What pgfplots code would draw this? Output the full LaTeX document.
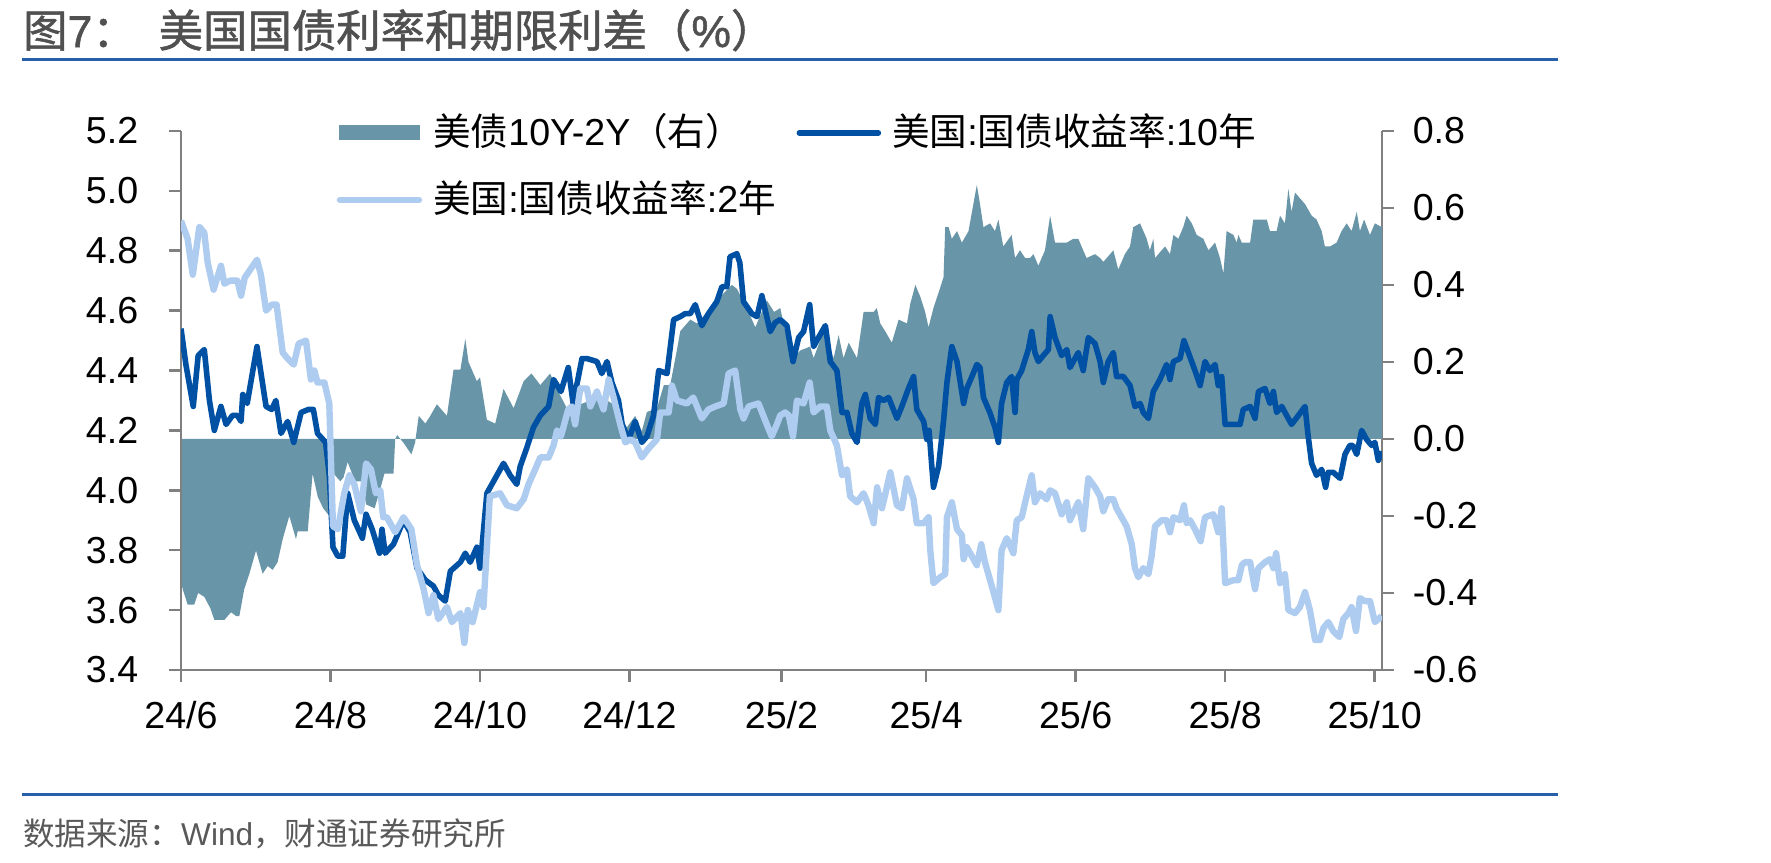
\documentclass[border=0pt]{standalone}
\usepackage{fontspec}
\usepackage{pgfplots}
\usepackage{pgfplotstable}
\pgfplotsset{compat=1.18}
\setmainfont{Liberation Sans}
\newfontfamily\cjk{Noto Sans CJK SC}
\newfontfamily\cjkhead[FakeBold=1.2]{Noto Sans CJK SC}
\newfontfamily\lathead[FakeBold=1.2]{Liberation Sans}

\definecolor{spreadfill}{RGB}{104,149,168}
\definecolor{tenyr}{RGB}{0,81,163}
\definecolor{twoyr}{RGB}{174,203,240}
\definecolor{axisgray}{RGB}{128,128,128}
\definecolor{rulecol}{RGB}{40,95,170}
\definecolor{titlegray}{RGB}{80,80,80}
\definecolor{srcgray}{RGB}{89,89,89}

% d = days since 2024-06-01
\pgfplotstableread{
d v
0 4.54
2 4.42
5 4.28
7 4.45
9.5 4.47
11.6 4.30
13.6 4.20
16.3 4.28
18.4 4.22
21 4.25
23 4.25
24.5 4.23
25.2 4.32
27 4.29
31 4.48
34.7 4.28
37 4.27
38.7 4.30
40.8 4.19
43.5 4.23
46 4.16
49 4.26
52 4.27
54 4.27
55.7 4.19
59 4.16
60.5 4.05
62 3.81
64 3.78
66 3.78
68 3.99
70.7 3.90
74 3.84
75.5 3.92
78 3.87
81 3.79
82 3.87
83.3 3.79
86.7 3.82
90.8 3.90
93.5 3.86
96.3 3.74
99.7 3.70
103 3.68
105 3.65
107.8 3.63
109.9 3.73
114 3.76
116 3.79
118 3.76
120.7 3.81
122 3.74
124.8 3.99
128.2 4.04
131.6 4.09
134.3 4.05
137 4.02
138.4 4.08
141 4.14
143.8 4.21
146.6 4.25
150 4.28
152 4.37
155 4.33
158 4.41
160 4.29
163.6 4.44
165.6 4.44
169.7 4.43
171.7 4.39
173.8 4.43
175.8 4.36
178.5 4.30
180 4.22
182.6 4.17
185.3 4.23
188 4.16
190.1 4.18
192.8 4.25
194.9 4.40
198.3 4.39
201 4.57
203.7 4.58
205.7 4.59
207.8 4.59
209.8 4.62
212.5 4.55
215.2 4.59
218.6 4.63
220.7 4.68
222.7 4.68
224 4.78
226.8 4.79
228 4.76
229.5 4.63
232.9 4.59
235 4.58
237 4.65
240.4 4.53
242.4 4.56
244.5 4.57
247.2 4.55
249.7 4.43
252 4.51
254 4.53
256.5 4.62
258.1 4.48
260.1 4.51
262.9 4.55
264.9 4.43
267.6 4.40
269.7 4.26
271.7 4.26
273.7 4.19
275.8 4.16
277.8 4.29
279.2 4.32
281.2 4.24
283.3 4.22
284.6 4.31
286.6 4.30
288.7 4.31
292.1 4.24
294.1 4.28
296.8 4.34
298.9 4.38
300.2 4.27
303 4.23
304.3 4.17
305.2 4.20
307 4.01
309.1 4.08
311.1 4.23
312.5 4.36
314.5 4.48
316.6 4.43
319.3 4.29
320.6 4.34
322.7 4.38
324.7 4.42
326 4.41
327.4 4.31
330 4.26
332.1 4.21
333.5 4.16
334.8 4.29
336.9 4.36
338.9 4.38
340.3 4.26
341 4.37
343 4.40
345.7 4.47
347.1 4.53
348.4 4.46
349.8 4.43
351.8 4.45
353.9 4.47
354.6 4.58
356.6 4.51
359.3 4.45
361.4 4.47
362.7 4.41
366.1 4.46
368.1 4.40
370.2 4.51
372.9 4.49
375 4.43
376.3 4.36
378.3 4.43
380.4 4.46
381.7 4.38
384.5 4.38
387.2 4.35
389.2 4.28
391.3 4.29
392.6 4.26
394.7 4.24
396.7 4.33
399.4 4.37
402.1 4.42
403.5 4.37
404.9 4.43
407.6 4.44
409.2 4.50
411 4.46
413.7 4.40
415.8 4.35
417.8 4.43
419.8 4.40
421.9 4.42
423.2 4.35
424.6 4.38
426 4.22
429.4 4.22
432.1 4.22
433.4 4.27
436.2 4.28
438.2 4.24
439.6 4.33
442.3 4.34
444.3 4.29
445.7 4.33
447 4.26
449.1 4.28
451.1 4.25
453.1 4.22
455.9 4.25
458.6 4.28
459.9 4.18
461.3 4.09
463.3 4.05
465.4 4.07
467 4.01
468.1 4.06
470.1 4.06
472.9 4.04
474.9 4.12
476.9 4.15
478 4.15
479.7 4.12
481.7 4.20
483.7 4.17
485.8 4.15
487.1 4.16
488.5 4.10
489.9 4.13
}\tenyear

\pgfplotstableread{
d v
0 4.90
2.7 4.84
4.8 4.72
7.5 4.88
9.5 4.86
10.9 4.76
13.3 4.67
16.3 4.75
17.7 4.69
20 4.70
23 4.70
24.5 4.65
26 4.71
31 4.77
32.6 4.72
34.7 4.60
37 4.62
39 4.62
41.5 4.46
43.5 4.44
46 4.42
48 4.49
51 4.50
53 4.37
54.4 4.40
55.7 4.36
58.5 4.36
60.5 4.29
62 3.88
64 3.87
66.6 3.99
68.7 4.05
70.7 4.02
73.4 3.93
75.5 4.09
77.5 4.07
79.5 3.99
81.3 4.00
82.5 3.91
84 3.91
87.4 3.86
90.8 3.91
94 3.87
96.3 3.75
99 3.67
101 3.59
103 3.65
105 3.57
108.5 3.61
110.5 3.56
114 3.59
115.6 3.49
117 3.60
119 3.56
122 3.66
123.4 3.61
126 3.98
130.2 3.99
133 3.95
137 3.94
139.8 3.97
141.8 4.02
144.5 4.07
146.6 4.11
150 4.11
152 4.15
153.4 4.20
155 4.18
158 4.27
159.5 4.28
160.8 4.22
162.9 4.34
165.6 4.34
167 4.28
169.7 4.33
172.4 4.27
174.5 4.37
176.5 4.31
179.2 4.22
181.3 4.16
183.3 4.17
185.3 4.16
188 4.11
190.8 4.14
194.2 4.17
195.5 4.26
199 4.26
200.3 4.35
202.3 4.30
206.4 4.29
209 4.31
212.5 4.24
215.2 4.27
218 4.28
221.4 4.29
223.4 4.39
226.1 4.40
228.2 4.27
229.5 4.24
231.6 4.28
235.6 4.29
239 4.22
241 4.18
243.1 4.22
244.5 4.25
246.5 4.26
248 4.25
249.7 4.18
251.3 4.30
254 4.29
256.5 4.36
258.1 4.26
260.8 4.28
263.5 4.28
264.9 4.20
267.6 4.15
269.7 4.05
271.7 4.07
273 3.98
275.8 3.96
278.5 3.99
280.5 3.95
282.6 3.89
284 4.01
286 3.94
289.4 4.06
292.1 3.95
294.1 3.94
296.2 4.04
298.9 3.97
300.2 3.89
303 3.89
305 3.91
305.7 3.80
307 3.69
309.8 3.71
311.8 3.72
312.5 3.91
314.5 3.96
316.6 3.87
318.6 3.85
319.3 3.77
320.6 3.81
324.7 3.75
326.5 3.82
328 3.76
330.8 3.68
333.5 3.60
334.8 3.80
336.9 3.84
339.6 3.79
341 3.90
343 3.91
345 3.98
347.1 4.05
348.4 3.96
350.5 3.99
353.2 3.97
354.6 4.00
356.6 3.99
359.3 3.92
361.4 3.96
362.7 3.90
366.1 3.96
368.1 3.87
370.2 4.04
372.9 4.01
375 3.98
376.3 3.93
378.3 3.97
380.4 3.97
381.7 3.94
385.8 3.88
387.9 3.82
389.2 3.74
390.6 3.71
392.6 3.74
394.7 3.72
396 3.78
397.4 3.88
400.1 3.90
402.1 3.90
403.5 3.86
404.9 3.91
407.6 3.90
409.2 3.95
410.3 3.89
411.7 3.90
413.7 3.87
416 3.83
417.8 3.91
421.2 3.92
423.2 3.86
424.6 3.94
426 3.69
429.4 3.70
431.4 3.70
432.8 3.75
434.1 3.76
436.2 3.76
438.2 3.67
439.6 3.74
442.3 3.76
444.3 3.77
445.7 3.74
446.8 3.79
448.4 3.69
450.4 3.72
451.8 3.60
454.5 3.59
456.5 3.61
458.6 3.66
460.6 3.60
462.7 3.50
464.7 3.50
466.1 3.54
468.1 3.56
470.1 3.53
472.6 3.51
474.2 3.57
476.3 3.59
477.6 3.61
479.4 3.53
481 3.64
483 3.63
485.1 3.63
487.1 3.56
489.9 3.58
}\twoyear

\pgfplotstableread{
d v
0 -0.37
0.7 -0.39
2.7 -0.43
5.4 -0.43
7 -0.40
9.5 -0.41
12 -0.44
13.6 -0.47
17.7 -0.47
20.4 -0.45
22.5 -0.46
23.8 -0.46
25.8 -0.39
27.9 -0.35
30.6 -0.29
33.3 -0.35
35.4 -0.33
37.4 -0.34
39.4 -0.32
41.5 -0.26
44.2 -0.20
46.9 -0.26
47.6 -0.24
51.7 -0.24
53.7 -0.09
55.8 -0.15
58 -0.18
60.5 -0.20
61.5 -0.18
62.3 -0.09
65 -0.11
66.3 -0.10
68 -0.06
71 -0.11
74 -0.11
75.5 -0.17
79 -0.18
81.3 -0.13
83 -0.09
86.7 -0.09
87.4 0.00
88.2 0.01
90.8 -0.01
94 -0.04
95.5 -0.01
97 0.06
99.7 0.04
101.7 0.06
104.4 0.09
108.5 0.06
111.2 0.18
114 0.18
116 0.26
117.3 0.20
120.7 0.15
122 0.16
124.8 0.05
128.2 0.04
131.6 0.13
135.7 0.08
139.8 0.15
143 0.17
146.6 0.14
150.6 0.17
153.4 0.13
157.4 0.08
161.5 0.11
162.9 0.09
167 0.10
171 0.11
176.5 0.09
181.9 0.03
185.3 0.06
188 0.02
190.1 0.07
194.2 0.08
197 0.14
199.6 0.14
202.3 0.23
203.7 0.28
207.8 0.31
210.5 0.30
214.6 0.33
220 0.37
224.8 0.40
226.8 0.39
230.9 0.34
234.3 0.29
239 0.36
242 0.33
244.5 0.34
246.5 0.28
249.9 0.21
252.7 0.23
256.7 0.24
258.1 0.21
262.2 0.28
266.3 0.21
268.3 0.27
270.3 0.21
272.4 0.25
275.8 0.21
278.5 0.33
282.6 0.33
283.9 0.34
285.3 0.30
287.3 0.28
290 0.25
292.8 0.31
296.2 0.30
297.5 0.35
299.6 0.40
301.6 0.37
303.6 0.33
305 0.29
307 0.34
309.1 0.38
311.1 0.42
311.8 0.55
313.2 0.55
314.5 0.52
316.6 0.54
318.6 0.51
321.3 0.54
324.7 0.66
326 0.61
327.4 0.55
330.1 0.56
332.1 0.54
333.5 0.57
335.5 0.50
338.9 0.53
340.3 0.47
342.3 0.49
344.4 0.47
346.4 0.47
347.8 0.48
349.8 0.45
352.5 0.49
354.6 0.58
356.6 0.51
361.4 0.51
364.1 0.52
366.1 0.52
368.1 0.49
369.5 0.47
372.9 0.48
375 0.47
376.3 0.46
377.7 0.47
380.4 0.49
382.4 0.44
385.1 0.48
387.2 0.50
388.5 0.55
391.3 0.56
394 0.52
395.3 0.49
396.7 0.52
397.4 0.47
400.1 0.49
401.5 0.50
403.5 0.48
404.9 0.53
406.9 0.52
408.9 0.55
410.3 0.58
412.4 0.56
414.4 0.53
417.1 0.52
419.2 0.49
421.9 0.51
423.9 0.47
425.3 0.43
426.6 0.54
429.4 0.53
430.7 0.51
431.4 0.53
432.8 0.51
436.2 0.51
437.5 0.57
439.6 0.57
443 0.57
444.3 0.54
447 0.54
448.4 0.58
450.4 0.56
451.8 0.65
453.1 0.59
454.5 0.64
458.6 0.61
461.3 0.58
463.3 0.57
465.4 0.54
466.7 0.50
468.8 0.50
471.5 0.51
473.5 0.54
475.6 0.56
477.6 0.54
479.7 0.59
481 0.54
482.7 0.57
485.1 0.53
487.1 0.56
490 0.55
}\spread

\pgfplotsset{
  base/.style={
    at={(45.25pt,48.25pt)}, anchor=south west,
    scale only axis, width=300.25pt, height=134.75pt,
    xmin=0, xmax=490,
    axis line style={axisgray, line width=0.65pt},
    every tick/.style={axisgray, line width=0.65pt},
    major tick length=3pt, tick align=outside,
    tick label style={font=\fontsize{9.4}{11}\selectfont, inner sep=0pt},
  }
}

\begin{document}
\begin{tikzpicture}
\useasboundingbox (0,0) rectangle (442.75pt,215.75pt);

% heading and footer
\node[anchor=west, inner sep=0pt, text=titlegray, font=\fontsize{11.1}{12}\selectfont]
  at (5.6pt,208.2pt) {{\cjkhead 图}{\lathead 7}{\cjkhead ：}\hspace{5.5pt}{\cjkhead 美国国债利率和期限利差（}{\lathead\%}{\cjkhead ）}};
\draw[rulecol, line width=0.75pt] (5.6pt,200.75pt) -- (389.5pt,200.75pt);
\draw[rulecol, line width=0.75pt] (5.6pt,17pt) -- (389.5pt,17pt);
\node[anchor=west, inner sep=0pt, text=srcgray, font=\fontsize{7.9}{9}\selectfont]
  at (5.6pt,7.25pt) {{\cjk 数据来源：}Wind{\cjk ，财通证券研究所}};

% term spread, right axis
\begin{axis}[base,
  ymin=-0.6, ymax=0.8,
  axis y line*=right, axis x line=none, xtick=\empty,
  ytick={-0.6,-0.4,-0.2,0,0.2,0.4,0.6,0.8},
  yticklabels={{-0.6},{-0.4},{-0.2},{0.0},{0.2},{0.4},{0.6},{0.8}},
  yticklabel style={anchor=west, xshift=4.5pt},
]
\addplot[fill=spreadfill, draw=none] table[x=d, y=v] {\spread} \closedcycle;
\end{axis}

% yields, left axis
\begin{axis}[base,
  ymin=3.4, ymax=5.2,
  axis y line*=left, axis x line*=bottom,
  xtick={0,61,122,183,245,304,365,426,487},
  xticklabels={24/6,24/8,24/10,24/12,25/2,25/4,25/6,25/8,25/10},
  xticklabel style={anchor=north, yshift=-4.6pt},
  ytick={3.4,3.6,3.8,4.0,4.2,4.4,4.6,4.8,5.0,5.2},
  yticklabels={3.4,3.6,3.8,4.0,4.2,4.4,4.6,4.8,5.0,5.2},
  yticklabel style={anchor=east, xshift=-7.5pt},
  legend columns=2,
  legend cell align=left,
  legend image code/.code={\draw[#1, line cap=round] (0pt,0pt) -- (19.75pt,0pt);},
  legend style={draw=none, fill=none, inner sep=0pt, outer sep=0pt,
    at={(0.1297,1.0586)}, anchor=north west,
    font=\fontsize{9.4}{11}\selectfont,
    nodes={inner sep=0pt, text height=11.6pt, text depth=5.15pt},
    row sep=0pt,
    /tikz/every odd column/.style={column sep=2.75pt},
    /tikz/every even column/.style={column sep=5.2pt}},
]
\addlegendimage{legend image code/.code={\fill[spreadfill] (0pt,-1.7pt) rectangle (19.75pt,1.7pt);}}
\addlegendentry{{\cjk 美债}10Y-2Y{\cjk （右）}}
\addplot[tenyr, line width=1.4pt, line join=round] table[x=d, y=v] {\tenyear};
\addlegendentry{{\cjk 美国}:{\cjk 国债收益率}:10{\cjk 年}}
\addplot[twoyr, line width=1.6pt, line join=round] table[x=d, y=v] {\twoyear};
\addlegendentry{{\cjk 美国}:{\cjk 国债收益率}:2{\cjk 年}}
\end{axis}
\end{tikzpicture}
\end{document}
